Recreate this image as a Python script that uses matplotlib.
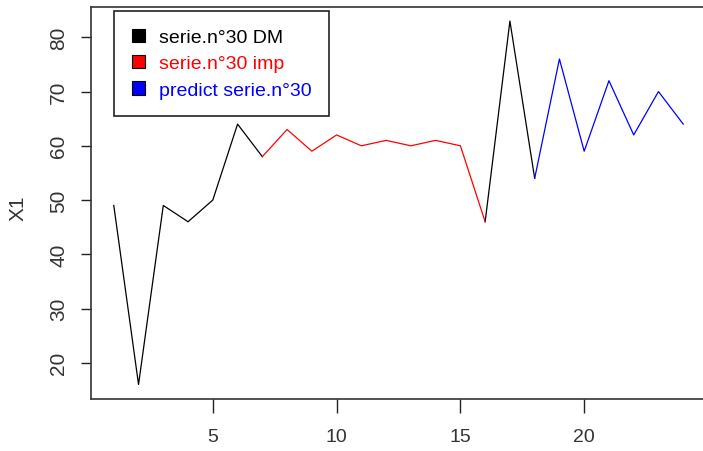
import numpy as np
import matplotlib.pyplot as plt
from matplotlib.patches import Patch

plt.rcParams['font.family'] = ['Liberation Sans', 'DejaVu Sans']

# series n°30, index 1..24
t = np.arange(1, 25)
serie = [49, 16, 49, 46, 50, 64, 58, 63, 59, 62, 60, 61,
         60, 61, 60, 46, 83, 54, 76, 59, 72, 62, 70, 64]
dm_parts = [(1, 7), (16, 18)]  # observed stretches
imp_idx = (7, 16)              # imputed stretch
pred_idx = (18, 24)            # predicted stretch
labels = ["serie.n°30 DM", "serie.n°30 imp", "predict serie.n°30"]
colors = ["black", "red", "blue"]

fig = plt.figure(figsize=(7.03, 4.52), dpi=100)
ax = fig.add_axes([91 / 703, 52 / 452, 615 / 703, 392.5 / 452])

y = np.array(serie)
for a, b in dm_parts:
    ax.plot(t[a - 1:b], y[a - 1:b], color="black", lw=0.9)
a, b = imp_idx
ax.plot(t[a - 1:b], y[a - 1:b], color="red", lw=0.9)
a, b = pred_idx
ax.plot(t[a - 1:b], y[a - 1:b], color="blue", lw=0.9)

# R-style 4% padding
pad_x = 0.04 * (t.max() - t.min())
pad_y = 0.04 * (y.max() - y.min())
ax.set_xlim(t.min() - pad_x, t.max() + pad_x)
ax.set_ylim(y.min() - pad_y, y.max() + pad_y)

ax.set_xticks([5, 10, 15, 20])
ax.set_yticks([20, 30, 40, 50, 60, 70, 80])
ax.tick_params(direction="out", width=1, color="#222222", labelcolor="#333333")
ax.tick_params(axis="x", length=10, pad=11, labelsize=14)
ax.tick_params(axis="y", length=7.5, pad=9, labelsize=15)
for lab in ax.get_yticklabels():
    lab.set_rotation(90)
    lab.set_va("center")
for s in ax.spines.values():
    s.set_color("#333333")
    s.set_linewidth(1.2)

fig.text(18 / 703, 1 - 208 / 452, "X1", rotation=90, ha="center", va="center",
         fontsize=15, color="#333333")

handles = [Patch(facecolor=c, edgecolor="black", lw=0.8) for c in colors]
leg = ax.legend(handles, labels, loc="upper left",
                bbox_to_anchor=(114 / 703, 1 - 12 / 452),
                bbox_transform=fig.transFigure, borderaxespad=0,
                fontsize=14, handlelength=0.7, handleheight=0.7,
                handletextpad=0.7, borderpad=0.9, labelspacing=0.45,
                fancybox=False, framealpha=1, edgecolor="#222222")
leg.get_frame().set_linewidth(1.2)
for txt, c in zip(leg.get_texts(), colors):
    txt.set_color(c)

fig.savefig("out.png", dpi=100)
